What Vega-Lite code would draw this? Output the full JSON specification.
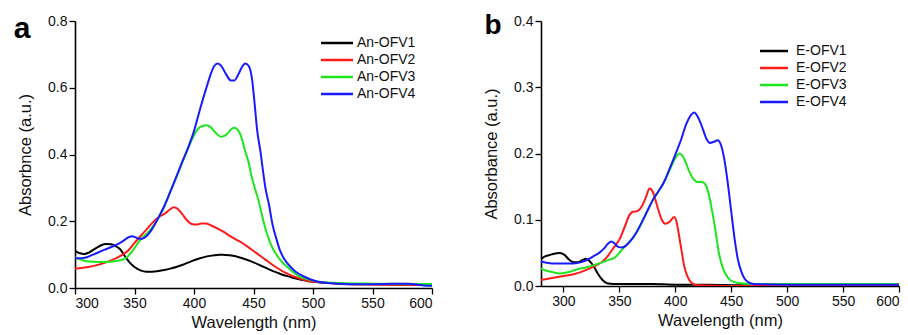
{
  "$schema": "https://vega.github.io/schema/vega-lite/v6.json",
  "background": "white",
  "padding": {"left": 13, "top": 12, "right": 4, "bottom": 0},
  "spacing": 50,
  "config": {
    "view": {"stroke": null},
    "font": "Liberation Sans",
    "axis": {
      "domain": true, "domainColor": "#000", "domainWidth": 1.6, "tickColor": "#000", "tickWidth": 1.3,
      "grid": false, "labelFont": "Liberation Sans", "labelFontSize": 14, "labelColor": "#111",
      "titleFont": "Liberation Sans", "titleFontSize": 16.5, "titleFontWeight": "normal", "titleColor": "#111",
      "labelPadding": 2
    },
    "legend": {
      "labelFont": "Liberation Sans", "labelFontSize": 14, "labelColor": "#111",
      "symbolType": "M-4,0H4", "symbolStrokeWidth": 2.5, "symbolSize": 64, "labelOffset": 13,
      "rowPadding": 3, "title": null, "orient": "none"
    }
  },
  "datasets": {
    "a": [
      {"s":"An-OFV1","x":300,"y":0.111},{"s":"An-OFV1","x":304,"y":0.104},{"s":"An-OFV1","x":308,"y":0.102},{"s":"An-OFV1","x":312,"y":0.107},{"s":"An-OFV1","x":318,"y":0.12},{"s":"An-OFV1","x":322,"y":0.128},{"s":"An-OFV1","x":326,"y":0.132},{"s":"An-OFV1","x":330,"y":0.131},{"s":"An-OFV1","x":334,"y":0.126},{"s":"An-OFV1","x":338,"y":0.116},{"s":"An-OFV1","x":342,"y":0.095},{"s":"An-OFV1","x":346,"y":0.076},{"s":"An-OFV1","x":350,"y":0.063},{"s":"An-OFV1","x":355,"y":0.053},{"s":"An-OFV1","x":360,"y":0.049},{"s":"An-OFV1","x":365,"y":0.049},{"s":"An-OFV1","x":370,"y":0.051},{"s":"An-OFV1","x":375,"y":0.054},{"s":"An-OFV1","x":380,"y":0.058},{"s":"An-OFV1","x":385,"y":0.063},{"s":"An-OFV1","x":390,"y":0.069},{"s":"An-OFV1","x":395,"y":0.076},{"s":"An-OFV1","x":400,"y":0.083},{"s":"An-OFV1","x":405,"y":0.089},{"s":"An-OFV1","x":410,"y":0.094},{"s":"An-OFV1","x":415,"y":0.097},{"s":"An-OFV1","x":420,"y":0.099},{"s":"An-OFV1","x":424,"y":0.1},{"s":"An-OFV1","x":430,"y":0.098},{"s":"An-OFV1","x":435,"y":0.095},{"s":"An-OFV1","x":440,"y":0.09},{"s":"An-OFV1","x":445,"y":0.084},{"s":"An-OFV1","x":450,"y":0.077},{"s":"An-OFV1","x":455,"y":0.069},{"s":"An-OFV1","x":460,"y":0.061},{"s":"An-OFV1","x":465,"y":0.053},{"s":"An-OFV1","x":470,"y":0.046},{"s":"An-OFV1","x":475,"y":0.039},{"s":"An-OFV1","x":480,"y":0.034},{"s":"An-OFV1","x":485,"y":0.029},{"s":"An-OFV1","x":490,"y":0.025},{"s":"An-OFV1","x":495,"y":0.021},{"s":"An-OFV1","x":500,"y":0.019},{"s":"An-OFV1","x":510,"y":0.016},{"s":"An-OFV1","x":520,"y":0.014},{"s":"An-OFV1","x":530,"y":0.012},{"s":"An-OFV1","x":550,"y":0.011},{"s":"An-OFV1","x":575,"y":0.01},{"s":"An-OFV1","x":600,"y":0.009},
      {"s":"An-OFV2","x":300,"y":0.058},{"s":"An-OFV2","x":310,"y":0.062},{"s":"An-OFV2","x":320,"y":0.07},{"s":"An-OFV2","x":330,"y":0.082},{"s":"An-OFV2","x":340,"y":0.1},{"s":"An-OFV2","x":345,"y":0.113},{"s":"An-OFV2","x":350,"y":0.135},{"s":"An-OFV2","x":355,"y":0.155},{"s":"An-OFV2","x":360,"y":0.175},{"s":"An-OFV2","x":365,"y":0.195},{"s":"An-OFV2","x":370,"y":0.212},{"s":"An-OFV2","x":375,"y":0.222},{"s":"An-OFV2","x":380,"y":0.236},{"s":"An-OFV2","x":383,"y":0.242},{"s":"An-OFV2","x":386,"y":0.238},{"s":"An-OFV2","x":390,"y":0.222},{"s":"An-OFV2","x":394,"y":0.203},{"s":"An-OFV2","x":398,"y":0.192},{"s":"An-OFV2","x":402,"y":0.19},{"s":"An-OFV2","x":406,"y":0.193},{"s":"An-OFV2","x":410,"y":0.193},{"s":"An-OFV2","x":414,"y":0.188},{"s":"An-OFV2","x":420,"y":0.178},{"s":"An-OFV2","x":425,"y":0.168},{"s":"An-OFV2","x":430,"y":0.156},{"s":"An-OFV2","x":435,"y":0.146},{"s":"An-OFV2","x":440,"y":0.136},{"s":"An-OFV2","x":445,"y":0.124},{"s":"An-OFV2","x":450,"y":0.111},{"s":"An-OFV2","x":455,"y":0.098},{"s":"An-OFV2","x":460,"y":0.085},{"s":"An-OFV2","x":465,"y":0.072},{"s":"An-OFV2","x":470,"y":0.06},{"s":"An-OFV2","x":475,"y":0.049},{"s":"An-OFV2","x":480,"y":0.04},{"s":"An-OFV2","x":485,"y":0.033},{"s":"An-OFV2","x":490,"y":0.027},{"s":"An-OFV2","x":495,"y":0.022},{"s":"An-OFV2","x":500,"y":0.019},{"s":"An-OFV2","x":510,"y":0.016},{"s":"An-OFV2","x":520,"y":0.013},{"s":"An-OFV2","x":540,"y":0.011},{"s":"An-OFV2","x":570,"y":0.01},{"s":"An-OFV2","x":600,"y":0.01},
      {"s":"An-OFV3","x":300,"y":0.092},{"s":"An-OFV3","x":305,"y":0.085},{"s":"An-OFV3","x":310,"y":0.08},{"s":"An-OFV3","x":320,"y":0.078},{"s":"An-OFV3","x":330,"y":0.079},{"s":"An-OFV3","x":338,"y":0.083},{"s":"An-OFV3","x":343,"y":0.09},{"s":"An-OFV3","x":347,"y":0.105},{"s":"An-OFV3","x":351,"y":0.125},{"s":"An-OFV3","x":355,"y":0.145},{"s":"An-OFV3","x":360,"y":0.162},{"s":"An-OFV3","x":365,"y":0.182},{"s":"An-OFV3","x":370,"y":0.21},{"s":"An-OFV3","x":375,"y":0.245},{"s":"An-OFV3","x":380,"y":0.287},{"s":"An-OFV3","x":385,"y":0.33},{"s":"An-OFV3","x":390,"y":0.375},{"s":"An-OFV3","x":395,"y":0.418},{"s":"An-OFV3","x":400,"y":0.458},{"s":"An-OFV3","x":405,"y":0.482},{"s":"An-OFV3","x":410,"y":0.488},{"s":"An-OFV3","x":414,"y":0.482},{"s":"An-OFV3","x":418,"y":0.466},{"s":"An-OFV3","x":423,"y":0.453},{"s":"An-OFV3","x":428,"y":0.462},{"s":"An-OFV3","x":431,"y":0.475},{"s":"An-OFV3","x":434,"y":0.48},{"s":"An-OFV3","x":437,"y":0.473},{"s":"An-OFV3","x":440,"y":0.45},{"s":"An-OFV3","x":443,"y":0.41},{"s":"An-OFV3","x":446,"y":0.375},{"s":"An-OFV3","x":448,"y":0.34},{"s":"An-OFV3","x":451,"y":0.3},{"s":"An-OFV3","x":454,"y":0.265},{"s":"An-OFV3","x":457,"y":0.22},{"s":"An-OFV3","x":460,"y":0.178},{"s":"An-OFV3","x":463,"y":0.145},{"s":"An-OFV3","x":466,"y":0.12},{"s":"An-OFV3","x":470,"y":0.096},{"s":"An-OFV3","x":474,"y":0.078},{"s":"An-OFV3","x":480,"y":0.058},{"s":"An-OFV3","x":487,"y":0.038},{"s":"An-OFV3","x":495,"y":0.027},{"s":"An-OFV3","x":505,"y":0.019},{"s":"An-OFV3","x":520,"y":0.015},{"s":"An-OFV3","x":550,"y":0.013},{"s":"An-OFV3","x":600,"y":0.012},
      {"s":"An-OFV4","x":300,"y":0.089},{"s":"An-OFV4","x":305,"y":0.089},{"s":"An-OFV4","x":310,"y":0.092},{"s":"An-OFV4","x":315,"y":0.1},{"s":"An-OFV4","x":320,"y":0.107},{"s":"An-OFV4","x":325,"y":0.115},{"s":"An-OFV4","x":330,"y":0.122},{"s":"An-OFV4","x":335,"y":0.13},{"s":"An-OFV4","x":340,"y":0.14},{"s":"An-OFV4","x":345,"y":0.152},{"s":"An-OFV4","x":348,"y":0.155},{"s":"An-OFV4","x":352,"y":0.15},{"s":"An-OFV4","x":356,"y":0.147},{"s":"An-OFV4","x":360,"y":0.155},{"s":"An-OFV4","x":365,"y":0.178},{"s":"An-OFV4","x":370,"y":0.21},{"s":"An-OFV4","x":375,"y":0.245},{"s":"An-OFV4","x":380,"y":0.288},{"s":"An-OFV4","x":385,"y":0.332},{"s":"An-OFV4","x":390,"y":0.377},{"s":"An-OFV4","x":395,"y":0.42},{"s":"An-OFV4","x":400,"y":0.47},{"s":"An-OFV4","x":405,"y":0.535},{"s":"An-OFV4","x":410,"y":0.595},{"s":"An-OFV4","x":414,"y":0.64},{"s":"An-OFV4","x":417,"y":0.665},{"s":"An-OFV4","x":420,"y":0.673},{"s":"An-OFV4","x":423,"y":0.665},{"s":"An-OFV4","x":427,"y":0.64},{"s":"An-OFV4","x":431,"y":0.622},{"s":"An-OFV4","x":434,"y":0.622},{"s":"An-OFV4","x":437,"y":0.638},{"s":"An-OFV4","x":440,"y":0.66},{"s":"An-OFV4","x":443,"y":0.673},{"s":"An-OFV4","x":446,"y":0.665},{"s":"An-OFV4","x":449,"y":0.62},{"s":"An-OFV4","x":451,"y":0.55},{"s":"An-OFV4","x":453,"y":0.475},{"s":"An-OFV4","x":456,"y":0.405},{"s":"An-OFV4","x":458,"y":0.35},{"s":"An-OFV4","x":460,"y":0.3},{"s":"An-OFV4","x":463,"y":0.25},{"s":"An-OFV4","x":466,"y":0.19},{"s":"An-OFV4","x":469,"y":0.15},{"s":"An-OFV4","x":472,"y":0.115},{"s":"An-OFV4","x":475,"y":0.092},{"s":"An-OFV4","x":478,"y":0.076},{"s":"An-OFV4","x":482,"y":0.06},{"s":"An-OFV4","x":486,"y":0.047},{"s":"An-OFV4","x":491,"y":0.037},{"s":"An-OFV4","x":497,"y":0.027},{"s":"An-OFV4","x":504,"y":0.019},{"s":"An-OFV4","x":512,"y":0.015},{"s":"An-OFV4","x":520,"y":0.013},{"s":"An-OFV4","x":540,"y":0.011},{"s":"An-OFV4","x":560,"y":0.012},{"s":"An-OFV4","x":580,"y":0.013},{"s":"An-OFV4","x":588,"y":0.01},{"s":"An-OFV4","x":595,"y":0.007},{"s":"An-OFV4","x":600,"y":0.007}
    ],
    "b": [
      {"s":"E-OFV1","x":280,"y":0.041},{"s":"E-OFV1","x":284,"y":0.045},{"s":"E-OFV1","x":288,"y":0.047},{"s":"E-OFV1","x":293,"y":0.049},{"s":"E-OFV1","x":297,"y":0.05},{"s":"E-OFV1","x":301,"y":0.047},{"s":"E-OFV1","x":305,"y":0.04},{"s":"E-OFV1","x":309,"y":0.036},{"s":"E-OFV1","x":313,"y":0.036},{"s":"E-OFV1","x":317,"y":0.039},{"s":"E-OFV1","x":320,"y":0.041},{"s":"E-OFV1","x":323,"y":0.038},{"s":"E-OFV1","x":327,"y":0.03},{"s":"E-OFV1","x":331,"y":0.018},{"s":"E-OFV1","x":335,"y":0.009},{"s":"E-OFV1","x":339,"y":0.004},{"s":"E-OFV1","x":345,"y":0.003},{"s":"E-OFV1","x":360,"y":0.003},{"s":"E-OFV1","x":380,"y":0.003},{"s":"E-OFV1","x":400,"y":0.002},{"s":"E-OFV1","x":430,"y":0.002},{"s":"E-OFV1","x":460,"y":0.001},{"s":"E-OFV1","x":500,"y":0.001},{"s":"E-OFV1","x":600,"y":0.001},
      {"s":"E-OFV2","x":280,"y":0.009},{"s":"E-OFV2","x":290,"y":0.012},{"s":"E-OFV2","x":300,"y":0.015},{"s":"E-OFV2","x":310,"y":0.018},{"s":"E-OFV2","x":320,"y":0.024},{"s":"E-OFV2","x":330,"y":0.032},{"s":"E-OFV2","x":335,"y":0.037},{"s":"E-OFV2","x":340,"y":0.046},{"s":"E-OFV2","x":345,"y":0.058},{"s":"E-OFV2","x":350,"y":0.07},{"s":"E-OFV2","x":355,"y":0.09},{"s":"E-OFV2","x":359,"y":0.107},{"s":"E-OFV2","x":362,"y":0.112},{"s":"E-OFV2","x":366,"y":0.113},{"s":"E-OFV2","x":370,"y":0.12},{"s":"E-OFV2","x":374,"y":0.135},{"s":"E-OFV2","x":377,"y":0.147},{"s":"E-OFV2","x":380,"y":0.142},{"s":"E-OFV2","x":384,"y":0.12},{"s":"E-OFV2","x":388,"y":0.1},{"s":"E-OFV2","x":391,"y":0.094},{"s":"E-OFV2","x":395,"y":0.097},{"s":"E-OFV2","x":399,"y":0.104},{"s":"E-OFV2","x":401,"y":0.098},{"s":"E-OFV2","x":403,"y":0.08},{"s":"E-OFV2","x":405.5,"y":0.055},{"s":"E-OFV2","x":408,"y":0.03},{"s":"E-OFV2","x":411,"y":0.014},{"s":"E-OFV2","x":415,"y":0.004},{"s":"E-OFV2","x":420,"y":0.001},{"s":"E-OFV2","x":450,"y":0.0},{"s":"E-OFV2","x":600,"y":0.0},
      {"s":"E-OFV3","x":280,"y":0.026},{"s":"E-OFV3","x":285,"y":0.023},{"s":"E-OFV3","x":290,"y":0.021},{"s":"E-OFV3","x":297,"y":0.019},{"s":"E-OFV3","x":305,"y":0.021},{"s":"E-OFV3","x":312,"y":0.025},{"s":"E-OFV3","x":320,"y":0.028},{"s":"E-OFV3","x":330,"y":0.033},{"s":"E-OFV3","x":340,"y":0.039},{"s":"E-OFV3","x":346,"y":0.043},{"s":"E-OFV3","x":352,"y":0.054},{"s":"E-OFV3","x":358,"y":0.065},{"s":"E-OFV3","x":364,"y":0.077},{"s":"E-OFV3","x":370,"y":0.095},{"s":"E-OFV3","x":375,"y":0.113},{"s":"E-OFV3","x":380,"y":0.13},{"s":"E-OFV3","x":385,"y":0.143},{"s":"E-OFV3","x":390,"y":0.157},{"s":"E-OFV3","x":395,"y":0.175},{"s":"E-OFV3","x":400,"y":0.193},{"s":"E-OFV3","x":404,"y":0.2},{"s":"E-OFV3","x":408,"y":0.192},{"s":"E-OFV3","x":412,"y":0.175},{"s":"E-OFV3","x":416,"y":0.162},{"s":"E-OFV3","x":420,"y":0.157},{"s":"E-OFV3","x":424,"y":0.157},{"s":"E-OFV3","x":427,"y":0.153},{"s":"E-OFV3","x":430,"y":0.138},{"s":"E-OFV3","x":433,"y":0.113},{"s":"E-OFV3","x":436,"y":0.083},{"s":"E-OFV3","x":439,"y":0.05},{"s":"E-OFV3","x":442,"y":0.03},{"s":"E-OFV3","x":445,"y":0.018},{"s":"E-OFV3","x":449,"y":0.009},{"s":"E-OFV3","x":455,"y":0.005},{"s":"E-OFV3","x":470,"y":0.003},{"s":"E-OFV3","x":600,"y":0.003},
      {"s":"E-OFV4","x":280,"y":0.037},{"s":"E-OFV4","x":285,"y":0.035},{"s":"E-OFV4","x":290,"y":0.034},{"s":"E-OFV4","x":300,"y":0.034},{"s":"E-OFV4","x":309,"y":0.034},{"s":"E-OFV4","x":316,"y":0.036},{"s":"E-OFV4","x":322,"y":0.04},{"s":"E-OFV4","x":327,"y":0.045},{"s":"E-OFV4","x":332,"y":0.05},{"s":"E-OFV4","x":336,"y":0.056},{"s":"E-OFV4","x":340,"y":0.064},{"s":"E-OFV4","x":343,"y":0.067},{"s":"E-OFV4","x":346,"y":0.064},{"s":"E-OFV4","x":349,"y":0.059},{"s":"E-OFV4","x":352,"y":0.058},{"s":"E-OFV4","x":356,"y":0.061},{"s":"E-OFV4","x":360,"y":0.068},{"s":"E-OFV4","x":365,"y":0.08},{"s":"E-OFV4","x":370,"y":0.096},{"s":"E-OFV4","x":375,"y":0.113},{"s":"E-OFV4","x":380,"y":0.13},{"s":"E-OFV4","x":385,"y":0.143},{"s":"E-OFV4","x":390,"y":0.157},{"s":"E-OFV4","x":395,"y":0.177},{"s":"E-OFV4","x":400,"y":0.198},{"s":"E-OFV4","x":405,"y":0.22},{"s":"E-OFV4","x":410,"y":0.245},{"s":"E-OFV4","x":414,"y":0.258},{"s":"E-OFV4","x":417,"y":0.262},{"s":"E-OFV4","x":420,"y":0.256},{"s":"E-OFV4","x":424,"y":0.24},{"s":"E-OFV4","x":428,"y":0.222},{"s":"E-OFV4","x":431,"y":0.216},{"s":"E-OFV4","x":435,"y":0.218},{"s":"E-OFV4","x":438,"y":0.22},{"s":"E-OFV4","x":441,"y":0.212},{"s":"E-OFV4","x":444,"y":0.19},{"s":"E-OFV4","x":447,"y":0.155},{"s":"E-OFV4","x":450,"y":0.113},{"s":"E-OFV4","x":453,"y":0.072},{"s":"E-OFV4","x":456,"y":0.04},{"s":"E-OFV4","x":459,"y":0.022},{"s":"E-OFV4","x":462,"y":0.011},{"s":"E-OFV4","x":466,"y":0.005},{"s":"E-OFV4","x":470,"y":0.003},{"s":"E-OFV4","x":500,"y":0.002},{"s":"E-OFV4","x":600,"y":0.002}
    ],
    "labA": [{"t":"a","x":300,"y":0.8}],
    "labB": [{"t":"b","x":280,"y":0.4}]
  },
  "hconcat": [
    {
      "width": 357, "height": 267,
      "layer": [
        {
          "data": {"name": "a"},
          "mark": {"type": "line", "strokeWidth": 2, "interpolate": "monotone", "clip": true},
          "encoding": {
            "x": {"field": "x", "type": "quantitative", "scale": {"domain": [300, 600], "nice": false},
              "axis": {"title": "Wavelength (nm)", "values": [300,325,350,375,400,425,450,475,500,525,550,575,600],
                "labelExpr": "datum.value % 50 == 0 ? datum.label : ''",
                "tickSize": {"condition": {"test": "datum.value % 50 != 0", "value": 3}, "value": 6}, "titlePadding": 4}},
            "y": {"field": "y", "type": "quantitative", "scale": {"domain": [0, 0.8], "nice": false},
              "axis": {"title": "Absorbnce (a.u.)", "values": [0,0.1,0.2,0.3,0.4,0.5,0.6,0.7,0.8],
                "labelExpr": "round(datum.value*10) % 2 == 0 ? format(datum.value, '.1f') : ''",
                "tickSize": {"condition": {"test": "round(datum.value*10) % 2 == 1", "value": 3}, "value": 6}, "titlePadding": 14}},
            "color": {"field": "s", "type": "nominal",
              "scale": {"domain": ["An-OFV1","An-OFV2","An-OFV3","An-OFV4"], "range": ["#000000","#ff1a1a","#1ee61e","#1a1aff"]},
              "legend": {"legendX": 255, "legendY": 15}}
          }
        },
        {
          "data": {"name": "labA"},
          "mark": {"type": "text", "fontSize": 30, "fontWeight": "bold", "font": "Liberation Sans", "align": "center", "baseline": "alphabetic", "dx": -53, "dy": 17, "color": "#000"},
          "encoding": {"x": {"field": "x", "type": "quantitative"}, "y": {"field": "y", "type": "quantitative"}, "text": {"field": "t"}}
        }
      ]
    },
    {
      "width": 358, "height": 265,
      "layer": [
        {
          "data": {"name": "b"},
          "mark": {"type": "line", "strokeWidth": 2, "interpolate": "monotone", "clip": true},
          "encoding": {
            "x": {"field": "x", "type": "quantitative", "scale": {"domain": [280, 600], "nice": false},
              "axis": {"title": "Wavelength (nm)", "values": [300,325,350,375,400,425,450,475,500,525,550,575,600],
                "labelExpr": "datum.value % 50 == 0 ? datum.label : ''",
                "tickSize": {"condition": {"test": "datum.value % 50 != 0", "value": 3}, "value": 6}, "titlePadding": 4}},
            "y": {"field": "y", "type": "quantitative", "scale": {"domain": [0, 0.4], "nice": false},
              "axis": {"title": "Absorbance (a.u.)", "values": [0,0.05,0.1,0.15,0.2,0.25,0.3,0.35,0.4],
                "labelExpr": "round(datum.value*20) % 2 == 0 ? format(datum.value, '.1f') : ''",
                "tickSize": {"condition": {"test": "round(datum.value*20) % 2 == 1", "value": 3}, "value": 6}, "titlePadding": 14}},
            "color": {"field": "s", "type": "nominal",
              "scale": {"domain": ["E-OFV1","E-OFV2","E-OFV3","E-OFV4"], "range": ["#000000","#ff1a1a","#1ee61e","#1a1aff"]},
              "legend": {"legendX": 226, "legendY": 23, "symbolType": "M-3.5,0H3.5", "labelOffset": 15}}
          }
        },
        {
          "data": {"name": "labB"},
          "mark": {"type": "text", "fontSize": 28, "fontWeight": "bold", "font": "Liberation Sans", "align": "center", "baseline": "alphabetic", "dx": -48, "dy": 13, "color": "#000"},
          "encoding": {"x": {"field": "x", "type": "quantitative"}, "y": {"field": "y", "type": "quantitative"}, "text": {"field": "t"}}
        }
      ]
    }
  ],
  "resolve": {"scale": {"x": "independent", "y": "independent", "color": "independent"}, "legend": {"color": "independent"}}
}
